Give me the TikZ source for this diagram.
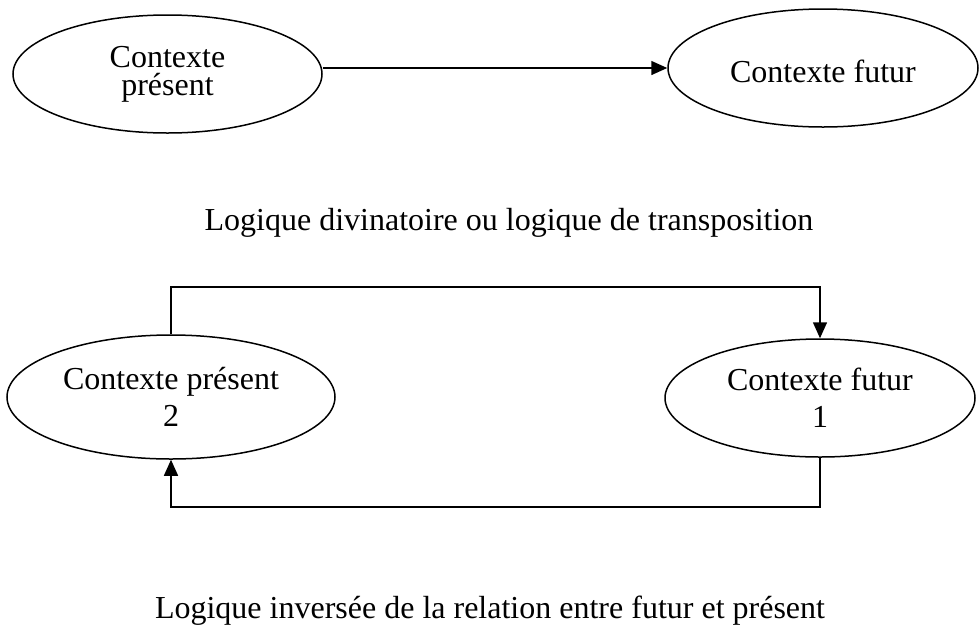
\documentclass[tikz,border=0pt]{standalone}
\usepackage{fontspec}
\setmainfont{Liberation Serif}
\usetikzlibrary{arrows.meta,shapes.geometric}
\begin{document}
\begin{tikzpicture}[x=1pt,y=-1pt,
  ell/.style={draw,ellipse,line width=1.5pt,inner sep=0pt,align=center,
    font=\fontsize{32}{37}\selectfont},
  conn/.style={line width=1.5pt,-{Triangle[length=16pt,width=14pt]}},
  captxt/.style={font=\fontsize{32}{37}\selectfont}]
\useasboundingbox (0,0) rectangle (980,630);
% top
\node[ell,minimum width=309pt,minimum height=118pt,font=\fontsize{32}{28}\selectfont] (tl) at (167.5,74) {Contexte\\présent};
\node[ell,minimum width=310pt,minimum height=118pt,text height=30pt] (tr) at (823,68) {Contexte futur};
\draw[conn] (tl.east |- tr.west) -- (tr.west);
\node[captxt] (c1) at (509,223) {Logique divinatoire ou logique de transposition};
% bottom
\node[ell,minimum width=328pt,minimum height=124pt] (bl) at (171,397) {Contexte présent\\2};
\node[ell,minimum width=310pt,minimum height=118pt] (br) at (820,398) {Contexte futur\\1};
\coordinate (t1) at (171,287);
\coordinate (b1) at (820,507);
\draw[conn] (bl.north) -- (t1) -| (br.north);
\draw[conn] (br.south) -- (b1) -| (bl.south);
\node[captxt] (c2) at (490,611) {Logique inversée de la relation entre futur et présent};
\end{tikzpicture}
\end{document}
